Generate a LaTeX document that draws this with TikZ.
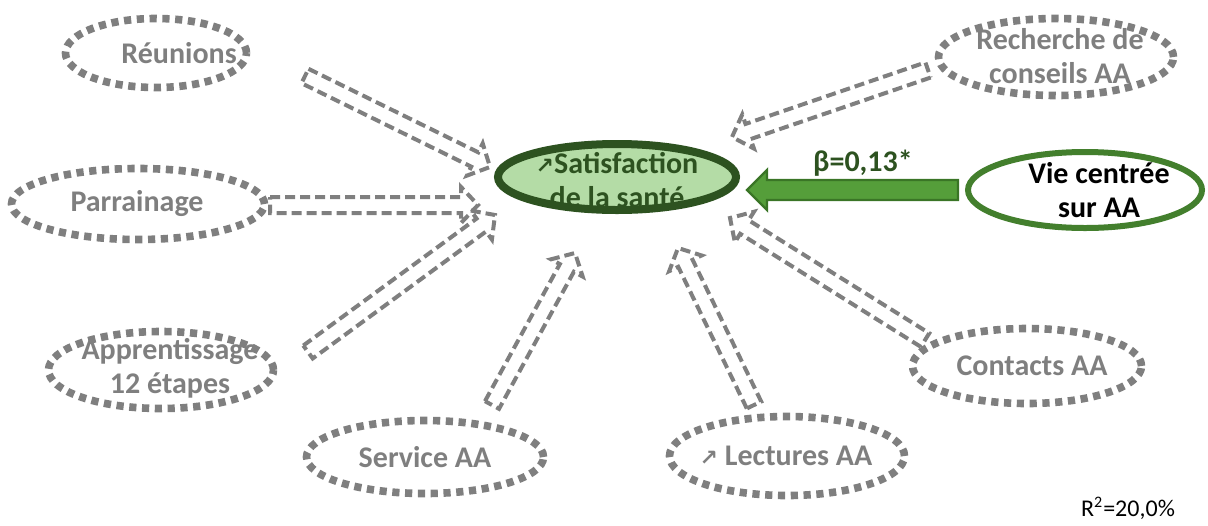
\documentclass[tikz,border=0pt]{standalone}
\usepackage{fontspec}
\setmainfont{Carlito}
\newfontfamily\symfont{DejaVu Sans}
\usetikzlibrary{calc,shapes.geometric}

\definecolor{agray}{HTML}{7F7F7F}
\definecolor{satfill}{HTML}{B4DCA6}
\definecolor{satline}{HTML}{2D5220}
\definecolor{vieline}{HTML}{437F2D}
\definecolor{arrfill}{HTML}{559E3A}
\definecolor{arrline}{HTML}{3A7526}

% block arrow: style, tail, tip, shaft half width, head half width, head length
\newcommand\blockarrow[6]{%
  \coordinate (bk) at ($(#3)!#6!(#2)$);
  \draw[#1] ($(#2)!#4!90:(#3)$) -- ($(bk)!#4!-90:(#2)$) -- ($(bk)!#5!-90:(#2)$)
    -- (#3) -- ($(bk)!#5!90:(#2)$) -- ($(bk)!#4!90:(#2)$) -- ($(#2)!#4!-90:(#3)$) -- cycle;}
\newcommand\uparr{{\symfont\fontsize{11}{11}\selectfont ↗}}

\begin{document}
\begin{tikzpicture}[x=0.5pt,y=-0.5pt,
  ring/.style={ellipse,draw=agray,line width=3.8pt,dash pattern=on 3.6pt off 2.8pt,inner sep=0pt},
  lab/.style={font=\fontsize{15}{17}\selectfont\bfseries,text=agray,align=center,inner sep=0pt},
  grayarrow/.style={draw=agray,line width=2pt,dash pattern=on 5pt off 2.5pt,line join=miter}]
  \useasboundingbox (0,0) rectangle (1208,525);

  % outer factors
  \node[ring,minimum width=90.5pt,minimum height=34.5pt] (reu) at (156,53) {};
  \node[ring,minimum width=126.5pt,minimum height=35.5pt] (par) at (138,204) {};
  \node[ring,minimum width=112.5pt,minimum height=38.5pt] (app) at (161,370) {};
  \node[ring,minimum width=118.5pt,minimum height=36.5pt] (ser) at (425,457) {};
  \node[ring,minimum width=117.5pt,minimum height=39.5pt] (lec) at (787,456) {};
  \node[ring,minimum width=114.5pt,minimum height=37.5pt] (con) at (1027,366) {};
  \node[ring,minimum width=117.5pt,minimum height=38.5pt] (rec) at (1056,57) {};

  \node[lab] (reu-t) at (179,53) {Réunions};
  \node[lab] (par-t) at (137,204) {Parrainage};
  \node[lab] (app-t) at (170,368) {Apprentissage\\12 étapes};
  \node[lab] (ser-t) at (425,457) {Service AA};
  \node[lab] (lec-t) at (786,456) {\uparr\ Lectures AA};
  \node[lab] (con-t) at (1032,366) {Contacts AA};
  \node[lab] (rec-t) at (1060,56) {Recherche de\\conseils AA};

  % outcome and predictor
  \node[ellipse,draw=satline,fill=satfill,line width=4pt,inner sep=0pt,
    minimum width=119pt,minimum height=33pt] (sat) at (617,177) {};
  \node[lab,text=satline] (sat-t) at (617,180) {\uparr Satisfaction\\de la santé};
  \node[ellipse,draw=vieline,fill=white,line width=3pt,inner sep=0pt,
    minimum width=117pt,minimum height=38pt] (vie) at (1085,190) {};
  \node[lab,text=black] (vie-t) at (1099,190) {Vie centrée\\sur AA};

  % gray arrows
  \coordinate (reu-a) at (305,76);  \coordinate (reu-b) at (490,167);
  \coordinate (par-a) at (270,205); \coordinate (par-b) at (478,205);
  \coordinate (app-a) at (308,352); \coordinate (app-b) at (495,215);
  \coordinate (ser-a) at (492,405); \coordinate (ser-b) at (575,253);
  \coordinate (lec-a) at (754,405); \coordinate (lec-b) at (678,248);
  \coordinate (con-a) at (925,340); \coordinate (con-b) at (730,218);
  \coordinate (rec-a) at (928,70);  \coordinate (rec-b) at (732,137);
  \foreach \k in {reu,par,app,ser,lec,con,rec}
    {\blockarrow{grayarrow}{\k-a}{\k-b}{4pt}{9pt}{8.5pt}}

  % significant path
  \coordinate (vie-a) at (958,190); \coordinate (sat-b) at (747,190);
  \blockarrow{fill=arrfill,draw=arrline,line width=1.2pt}{vie-a}{sat-b}{5pt}{10pt}{10pt}
  \node[lab,text=satline] (beta) at (863,163) {β=0,13*};

  \node[font=\fontsize{12}{14}\selectfont,inner sep=0pt] (rsq) at (1128,508) {R\textsuperscript{2}=20,0\%};
\end{tikzpicture}
\end{document}
